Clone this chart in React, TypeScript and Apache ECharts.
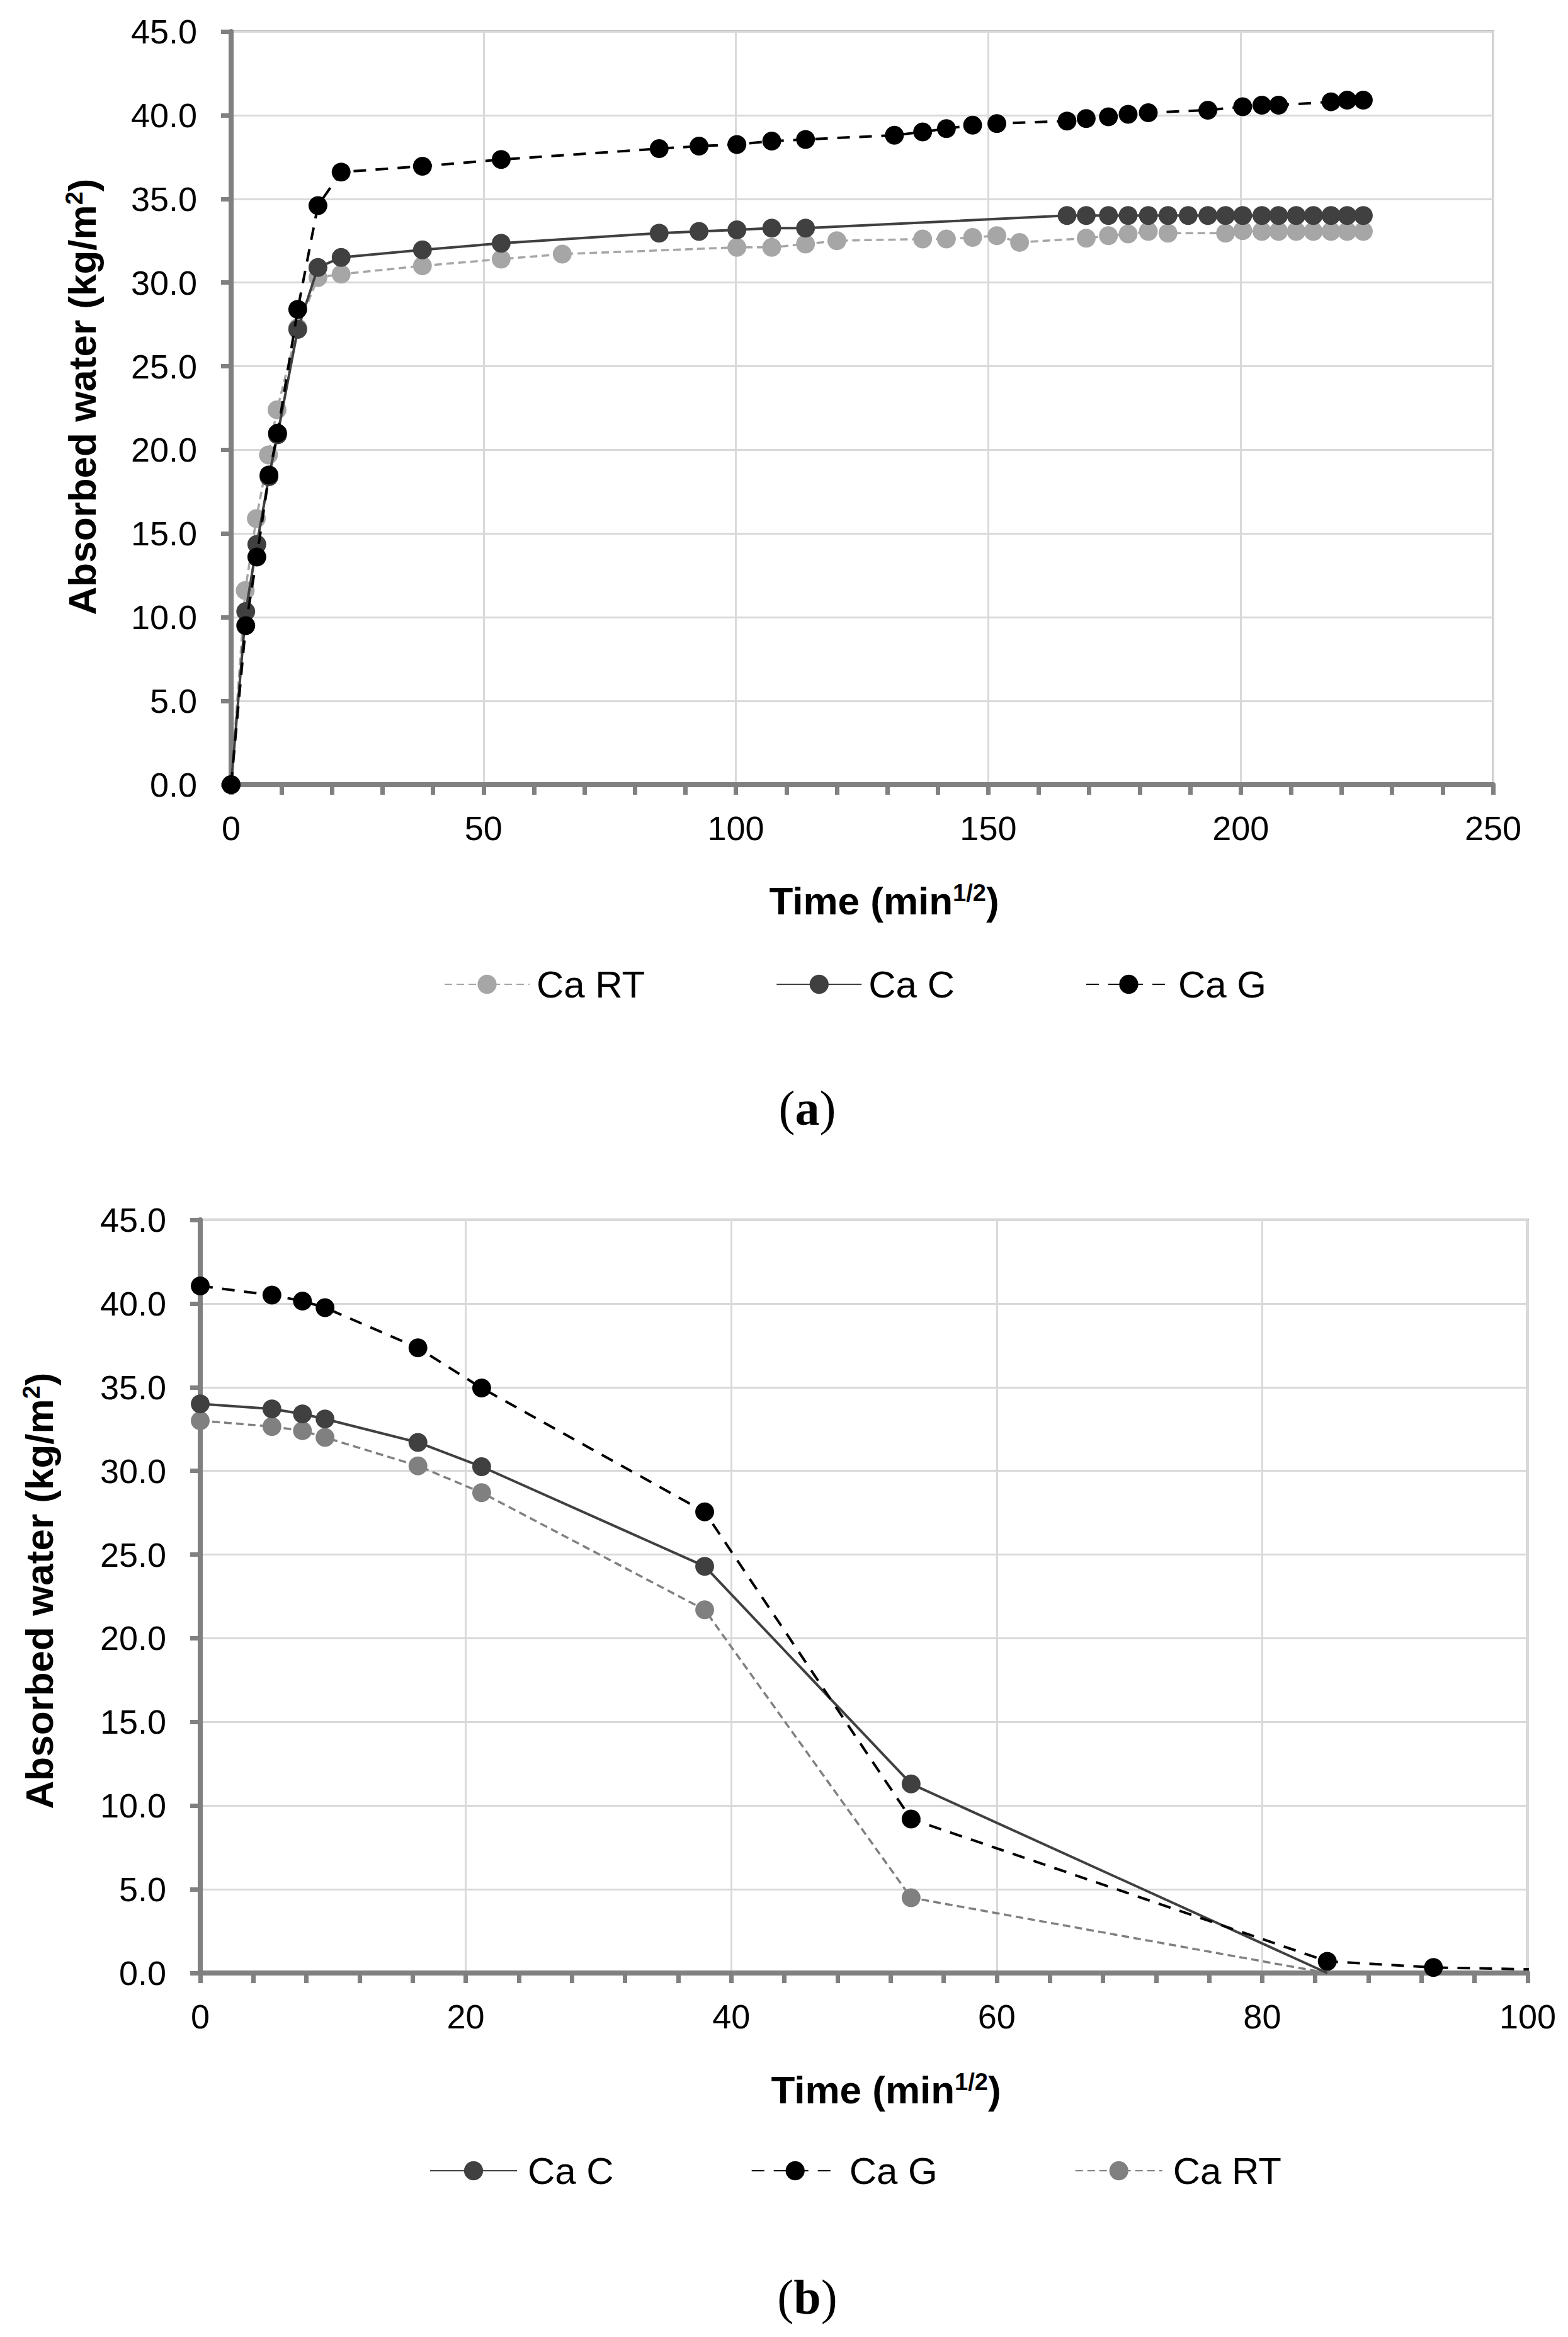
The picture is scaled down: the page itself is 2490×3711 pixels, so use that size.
import React, { useEffect, useRef } from "react";
import * as echarts from "echarts";

// ---------- Data: chart (a) absorption ----------
const aRtX = [0, 2.8, 5.0, 7.4, 9.1, 13.2, 17.2, 21.8, 37.9, 53.5, 65.6, 100.2, 107.1, 113.8, 120.0, 137.0, 141.7, 146.9, 151.7, 156.2, 169.4, 173.8, 177.7, 181.7, 185.6, 197.0, 200.4, 204.2, 207.5, 211.0, 214.4, 217.9, 221.1, 224.3];
const aRtY = [0, 11.6, 15.9, 19.7, 22.4, 27.3, 30.3, 30.5, 31.0, 31.4, 31.7, 32.1, 32.1, 32.3, 32.5, 32.6, 32.6, 32.7, 32.8, 32.4, 32.65, 32.8, 32.9, 33.05, 32.95, 32.95, 33.1, 33.05, 33.05, 33.05, 33.05, 33.05, 33.05, 33.05];

const aCX = [0, 2.9, 5.1, 7.5, 9.2, 13.2, 17.2, 21.8, 37.9, 53.5, 84.8, 92.7, 100.2, 107.1, 113.8, 165.6, 169.4, 173.8, 177.7, 181.7, 185.6, 189.6, 193.5, 197.0, 200.4, 204.2, 207.5, 211.0, 214.4, 217.9, 221.1, 224.3];
const aCY = [0, 10.35, 14.35, 18.4, 20.9, 27.2, 30.9, 31.5, 31.95, 32.35, 32.95, 33.05, 33.15, 33.25, 33.25, 34.0, 34.0, 34.0, 34.0, 34.0, 34.0, 34.0, 34.0, 34.0, 34.0, 34.0, 34.0, 34.0, 34.0, 34.0, 34.0, 34.0];

const aGX = [0, 2.9, 5.1, 7.5, 9.2, 13.2, 17.2, 21.8, 37.9, 53.5, 84.8, 92.7, 100.2, 107.1, 113.8, 131.4, 137.0, 141.7, 146.9, 151.7, 165.6, 169.4, 173.8, 177.7, 181.7, 193.5, 200.4, 204.2, 207.5, 217.9, 221.1, 224.3];
const aGY = [0, 9.5, 13.6, 18.5, 21.0, 28.4, 34.6, 36.6, 36.95, 37.35, 38.0, 38.15, 38.25, 38.45, 38.55, 38.8, 39.0, 39.2, 39.4, 39.5, 39.65, 39.8, 39.9, 40.05, 40.15, 40.3, 40.5, 40.6, 40.6, 40.8, 40.9, 40.9];

// ---------- Data: chart (b) drying ----------
const bX = [0, 5.4, 7.7, 9.4, 16.4, 21.2, 38.0, 53.55, 84.9, 92.9, 101.5];
const bCY = [34.0, 33.7, 33.4, 33.1, 31.7, 30.25, 24.3, 11.3, 0];
const bGY = [41.05, 40.5, 40.15, 39.75, 37.35, 34.95, 27.55, 9.2, 0.7, 0.33, 0.2];
const bRtY = [33.0, 32.65, 32.4, 32.0, 30.3, 28.7, 21.7, 4.5, 0];

const legendA = ["Ca RT", "Ca C", "Ca G"];
const legendB = ["Ca C", "Ca G", "Ca RT"];

const yTicks = { min: 0, max: 45, interval: 5 };
const xTicksA = { min: 0, max: 250, interval: 50 };
const xTicksB = { min: 0, max: 100, interval: 20 };

const FONT = '"Liberation Sans Narrow", "Arial Narrow", "Liberation Sans", Arial, sans-serif';
const SERIF = '"Liberation Serif", "DejaVu Serif", serif';

const COLORS = { rtA: "#a6a6a6", rtB: "#808080", c: "#404040", g: "#000000" };

function pts(xs: number[], ys: number[]) {
  return ys.map((y, i) => ({
    value: [xs[i], y],
    symbolSize: y === 0 && xs[i] > 0 ? 0 : 30,
  }));
}

function axisCommon() {
  return {
    axisLine: { show: true, onZero: false, lineStyle: { color: "#808080", width: 8 } },
    axisTick: { show: true, inside: false, length: 16, lineStyle: { color: "#808080", width: 7 } },
    splitLine: { show: true, lineStyle: { color: "#d9d9d9", width: 3 } },
    axisLabel: { fontFamily: FONT, fontSize: 54, color: "#000" },
  };
}

function nameStyle(padding: number[]) {
  return {
    fontFamily: FONT,
    fontSize: 62,
    fontWeight: "bold",
    color: "#000",
    padding,
    rich: {
      sup: { fontFamily: FONT, fontSize: 38, fontWeight: "bold", color: "#000", verticalAlign: "top", lineHeight: 38 },
    },
  };
}

function lineSeries(name: string, data: any[], color: string, type: any, width: number, z: number) {
  return {
    type: "line",
    name,
    data,
    symbol: "circle",
    symbolSize: 30,
    clip: true,
    z,
    itemStyle: { color },
    lineStyle: { color, width, type },
    emphasis: { disabled: true },
  };
}

function buildOption(p: {
  grid: any; xTicks: any; xMinorSplit: number; yNameGap: number; yNamePad: number[];
  xNameGap: number; legendData: string[]; legendTop: number; legendLeft: number; legendItemWidth: number;
  legendGap: number; legendTextPad: number[]; series: any[]; label: string; labelY: number;
}) {
  const c = axisCommon();
  return {
    animation: false,
    backgroundColor: "#ffffff",
    grid: { ...p.grid, show: true, borderColor: "#bfbfbf", borderWidth: 4, containLabel: false, outerBoundsMode: "none" },
    xAxis: {
      type: "value",
      ...p.xTicks,
      axisLine: c.axisLine,
      axisTick: c.axisTick,
      minorTick: { show: true, splitNumber: p.xMinorSplit, length: 16, lineStyle: { color: "#808080", width: 7 } },
      splitLine: c.splitLine,
      axisLabel: { ...c.axisLabel, margin: 42, formatter: (v: number) => String(v) },
      name: "Time (min{sup|1/2})",
      nameLocation: "middle",
      nameGap: p.xNameGap,
      nameTextStyle: nameStyle([0, 0, 0, 70]),
    },
    yAxis: {
      type: "value",
      ...yTicks,
      axisLine: c.axisLine,
      axisTick: c.axisTick,
      splitLine: c.splitLine,
      axisLabel: { ...c.axisLabel, margin: 54, formatter: (v: number) => v.toFixed(1) },
      name: "Absorbed water (kg/m{sup|2})",
      nameLocation: "middle",
      nameRotate: 90,
      nameGap: p.yNameGap,
      nameTextStyle: nameStyle(p.yNamePad),
    },
    legend: {
      show: true,
      data: p.legendData,
      top: p.legendTop,
      left: p.legendLeft,
      orient: "horizontal",
      itemWidth: p.legendItemWidth,
      itemHeight: 38,
      itemGap: p.legendGap,
      selectedMode: false,
      textStyle: { fontFamily: FONT, fontSize: 60, color: "#000", lineHeight: 70, padding: p.legendTextPad },
    },
    graphic: [
      {
        type: "text",
        x: 1282,
        y: p.labelY,
        style: {
          text: "({b|" + p.label + "})",
          font: `78px ${SERIF}`,
          fill: "#000",
          textAlign: "center",
          textVerticalAlign: "middle",
          rich: { b: { fontFamily: SERIF, fontSize: 78, fontWeight: "bold", fill: "#000" } },
        },
      },
    ],
    series: p.series,
  };
}

export default function App() {
  const refA = useRef<HTMLDivElement>(null);
  const refB = useRef<HTMLDivElement>(null);

  useEffect(() => {
    document.body.style.margin = "0";
    const chartA = echarts.init(refA.current!, undefined, { renderer: "svg" });
    const chartB = echarts.init(refB.current!, undefined, { renderer: "svg" });

    chartA.setOption(
      buildOption({
        grid: { left: 367, right: 119, top: 50, height: 1196 },
        xTicks: xTicksA,
        xMinorSplit: 5,
        yNameGap: 206,
        yNamePad: [0, 0, 0, 36],
        xNameGap: 153,
        legendData: legendA,
        legendTop: 1523,
        legendLeft: 700,
        legendItemWidth: 135,
        legendGap: 208,
        legendTextPad: [0, 0, 0, 6],
        label: "a",
        labelY: 1759,
        series: [
          lineSeries("Ca RT", pts(aRtX, aRtY), COLORS.rtA, [12, 7], 3.5, 2),
          lineSeries("Ca C", pts(aCX, aCY), COLORS.c, "solid", 4, 3),
          lineSeries("Ca G", pts(aGX, aGY), COLORS.g, [20, 15], 4, 4),
        ],
      }) as any
    );

    chartB.setOption(
      buildOption({
        grid: { left: 318, right: 64, top: 77, height: 1196 },
        xTicks: xTicksB,
        xMinorSplit: 5,
        yNameGap: 225,
        yNamePad: [0, 0, 0, 18],
        xNameGap: 154,
        legendData: legendB,
        legendTop: 1547,
        legendLeft: 677,
        legendItemWidth: 138,
        legendGap: 218,
        legendTextPad: [0, 0, 0, 12],
        label: "b",
        labelY: 1787,
        series: [
          lineSeries("Ca RT", pts(bX, bRtY), COLORS.rtB, [12, 7], 3.5, 2),
          lineSeries("Ca C", pts(bX, bCY), COLORS.c, "solid", 4, 3),
          lineSeries("Ca G", pts(bX, bGY), COLORS.g, [20, 15], 4, 4),
        ],
      }) as any
    );

    return () => {
      chartA.dispose();
      chartB.dispose();
    };
  }, []);

  return (
    <div style={{ width: 2490, height: 3711, background: "#fff", position: "relative" }}>
      <div ref={refA} style={{ position: "absolute", left: 0, top: 0, width: 2490, height: 1860 }} />
      <div ref={refB} style={{ position: "absolute", left: 0, top: 1860, width: 2490, height: 1851 }} />
    </div>
  );
}
